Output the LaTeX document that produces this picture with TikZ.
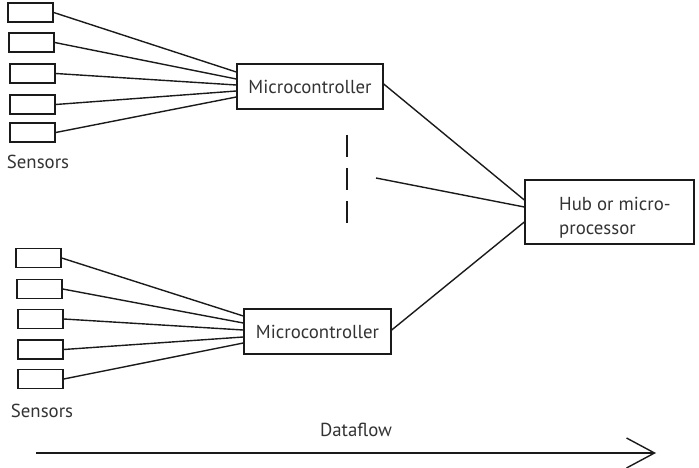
\documentclass[tikz,border=0pt]{standalone}
\usepackage{fontspec}
\setmainfont{PT Sans}
\usetikzlibrary{arrows.meta}
\definecolor{ink}{HTML}{1A1A1A}
\definecolor{txt}{HTML}{333333}
\tikzset{
  wire/.style={draw=ink, line width=1.4pt},
  sensorbox/.style={draw=ink, line width=1.4pt, minimum width=45pt, minimum height=19pt, inner sep=0pt},
  unitbox/.style={draw=ink, line width=1.4pt, inner sep=0pt, text=txt, font=\fontsize{18.8}{23}\selectfont},
  label/.style={text=txt, font=\fontsize{18.8}{24}\selectfont, inner sep=0pt},
}
\begin{document}
\begin{tikzpicture}[x=1pt, y=-1pt]
\useasboundingbox (0,0) rectangle (699,468);

% upper sensor group
\node[sensorbox] (a1) at (30.5,12.5) {};
\node[sensorbox] (a2) at (31.5,42.5) {};
\node[sensorbox] (a3) at (32.5,73.5) {};
\node[sensorbox] (a4) at (32.5,104.5) {};
\node[sensorbox] (a5) at (32.5,132.5) {};
\node[label, anchor=base] (sa) at (38,168) {Sensors};

% lower sensor group
\node[sensorbox] (b1) at (38.5,258) {};
\node[sensorbox] (b2) at (39.5,289) {};
\node[sensorbox] (b3) at (40.5,319) {};
\node[sensorbox] (b4) at (40.5,349.5) {};
\node[sensorbox] (b5) at (40.5,379) {};
\node[label, anchor=base] (sb) at (42,417) {Sensors};

% controllers and hub
\node[unitbox, minimum width=146pt, minimum height=45pt] (mc1) at (310,86.5) {Microcontroller};
\node[unitbox, minimum width=147pt, minimum height=45pt] (mc2) at (317.5,331.5) {Microcontroller};
\node[unitbox, minimum width=169pt, minimum height=64pt] (hub) at (609.5,212) {};
\node[label, align=left, anchor=north west] (hubtext) at (559,197) {Hub or micro-\\processor};

% sensor wiring, upper group
\draw[wire] (a1.east) -- ([yshift=14.5pt]mc1.west);
\draw[wire] (a2.east) -- ([yshift=7.5pt]mc1.west);
\draw[wire] (a3.east) -- ([yshift=1.5pt]mc1.west);
\draw[wire] (a4.east) -- ([yshift=-4.5pt]mc1.west);
\draw[wire] (a5.east) -- ([yshift=-10.5pt]mc1.west);

% sensor wiring, lower group
\draw[wire] (b1.east) -- ([yshift=15.5pt]mc2.west);
\draw[wire] (b2.east) -- ([yshift=8.5pt]mc2.west);
\draw[wire] (b3.east) -- ([yshift=1.5pt]mc2.west);
\draw[wire] (b4.east) -- ([yshift=-5.5pt]mc2.west);
\draw[wire] (b5.east) -- ([yshift=-11.5pt]mc2.west);

% controllers to hub
\coordinate (more) at (376,178);
\draw[wire] ([yshift=2.5pt]mc1.east) -- ([yshift=12pt]hub.west);
\draw[wire] (more) -- ([yshift=5pt]hub.west);
\draw[wire] ([yshift=1.5pt]mc2.east) -- ([yshift=-10pt]hub.west);

% further controllers elided
\coordinate (gapTop) at (347,135);
\coordinate (gapBot) at (347,223);
\draw[wire, dash pattern=on 22pt off 11pt] (gapTop) -- (gapBot);

% dataflow direction
\coordinate (flowA) at (36,453);
\coordinate (flowB) at (656,453);
\draw[wire, -{Straight Barb[length=28pt, width=30pt, line width=1.4pt]}] (flowA) -- (flowB);
\node[label, anchor=base] (df) at (356,436) {Dataflow};
\end{tikzpicture}
\end{document}
